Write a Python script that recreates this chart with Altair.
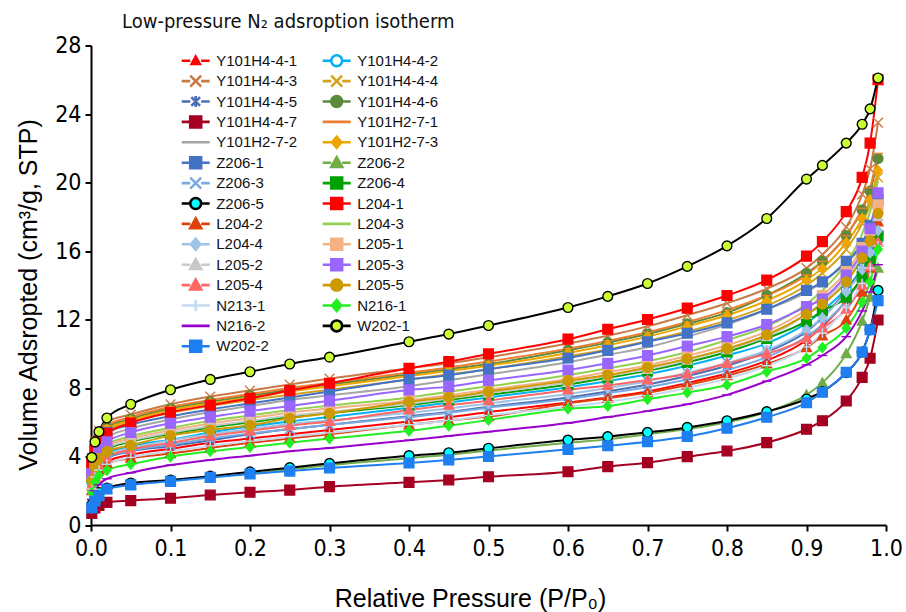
import altair as alt
import pandas as pd

# ---------------- data ----------------
X = [0.001, 0.005, 0.01, 0.02, 0.05, 0.1, 0.15, 0.2, 0.25, 0.3, 0.4, 0.45, 0.5,
     0.6, 0.65, 0.7, 0.75, 0.8, 0.85, 0.9, 0.92, 0.95, 0.97, 0.98, 0.99]

SERIES = ["Y101H4-4-1", "Y101H4-4-2", "Y101H4-4-3", "Y101H4-4-4", "Y101H4-4-5",
          "Y101H4-4-6", "Y101H4-4-7", "Y101H2-7-1", "Y101H2-7-2", "Y101H2-7-3",
          "Z206-1", "Z206-2", "Z206-3", "Z206-4", "Z206-5",
          "L204-1", "L204-2", "L204-3", "L204-4",
          "L205-1", "L205-2", "L205-3", "L205-4", "L205-5",
          "N213-1", "N216-1", "N216-2", "W202-1", "W202-2"]

Y101H4_4_1 = [2.2, 2.9, 3.3, 3.7, 4.1, 4.45, 4.8, 5.05, 5.3, 5.55, 6.05, 6.3, 6.6, 7.15, 7.45, 7.8, 8.3, 8.85, 9.6, 10.8, 11.6, 13.1, 14.5, 15.4, 16.7]
Y101H4_4_2 = [2.5, 3.3, 3.75, 4.15, 4.6, 4.98, 5.4, 5.75, 6.05, 6.3, 6.85, 7.15, 7.45, 8.05, 8.4, 8.8, 9.3, 9.9, 10.6, 11.8, 12.5, 13.8, 15.0, 15.9, 17.0]
Y101H4_4_3 = [3.9, 4.9, 5.5, 6.0, 6.45, 7.05, 7.5, 7.85, 8.2, 8.55, 9.15, 9.45, 9.8, 10.6, 11.05, 11.6, 12.25, 12.95, 13.8, 15.0, 15.8, 17.4, 19.3, 20.8, 23.5]
Y101H4_4_4 = [3.4, 4.4, 5.0, 5.5, 6.0, 6.55, 6.95, 7.3, 7.6, 7.9, 8.5, 8.8, 9.1, 9.85, 10.25, 10.75, 11.3, 11.95, 12.8, 14.0, 14.7, 16.1, 17.6, 18.7, 20.3]
Y101H4_4_5 = [2.4, 3.1, 3.5, 3.9, 4.3, 4.6, 4.95, 5.3, 5.6, 5.85, 6.35, 6.6, 6.9, 7.45, 7.8, 8.2, 8.7, 9.3, 10.1, 11.3, 12.1, 13.7, 15.0, 16.0, 17.4]
Y101H4_4_6 = [3.6, 4.6, 5.2, 5.7, 6.2, 6.8, 7.2, 7.55, 7.9, 8.2, 8.8, 9.1, 9.4, 10.2, 10.65, 11.15, 11.75, 12.4, 13.4, 14.7, 15.4, 16.9, 18.4, 19.5, 21.4]
Y101H4_4_7 = [0.68, 1.0, 1.15, 1.32, 1.42, 1.56, 1.75, 1.91, 2.04, 2.24, 2.49, 2.63, 2.82, 3.11, 3.41, 3.64, 3.99, 4.32, 4.81, 5.59, 6.09, 7.24, 8.62, 9.74, 11.97]
Y101H2_7_1 = [3.7, 4.7, 5.3, 5.8, 6.3, 6.9, 7.3, 7.65, 8.0, 8.3, 8.9, 9.2, 9.55, 10.3, 10.75, 11.25, 11.85, 12.55, 13.4, 14.6, 15.4, 16.9, 18.5, 19.7, 21.7]
Y101H2_7_2 = [3.26, 4.14, 4.66, 5.1, 5.63, 6.16, 6.6, 6.95, 7.3, 7.57, 8.1, 8.45, 8.8, 9.5, 9.94, 10.38, 11.0, 11.7, 12.58, 13.6, 14.2, 15.3, 16.3, 17.1, 18.5]
Y101H2_7_3 = [3.5, 4.5, 5.1, 5.6, 6.1, 6.7, 7.1, 7.45, 7.8, 8.1, 8.7, 9.0, 9.3, 10.05, 10.5, 11.0, 11.6, 12.25, 13.1, 14.3, 15.0, 16.5, 17.9, 19.0, 20.7]
Z206_1 = [3.3, 4.3, 4.9, 5.4, 5.85, 6.35, 6.75, 7.1, 7.45, 7.8, 8.5, 8.75, 9.1, 9.75, 10.2, 10.7, 11.2, 11.8, 12.6, 13.7, 14.2, 15.4, 16.45, 17.5, 19.0]
Z206_2 = [1.1, 1.5, 1.8, 2.1, 2.35, 2.6, 2.8, 3.0, 3.25, 3.5, 3.9, 4.1, 4.35, 4.8, 5.0, 5.3, 5.6, 6.0, 6.6, 7.6, 8.3, 10.0, 11.9, 13.3, 15.0]
Z206_3 = [2.5, 3.2, 3.6, 3.95, 4.35, 4.7, 5.05, 5.35, 5.6, 5.85, 6.3, 6.55, 6.85, 7.35, 7.7, 8.05, 8.5, 9.05, 9.8, 11.0, 11.7, 13.1, 14.5, 15.4, 16.8]
Z206_4 = [2.8, 3.57, 4.03, 4.4, 4.86, 5.32, 5.7, 6.0, 6.3, 6.54, 7.0, 7.3, 7.6, 8.2, 8.6, 9.0, 9.5, 10.1, 10.9, 11.9, 12.5, 13.3, 14.5, 15.4, 16.9]
Z206_5 = [1.2, 1.6, 1.9, 2.15, 2.45, 2.63, 2.85, 3.1, 3.35, 3.6, 4.05, 4.22, 4.48, 4.96, 5.16, 5.41, 5.7, 6.09, 6.62, 7.36, 7.79, 8.9, 10.1, 11.4, 13.7]
L204_1 = [3.6, 4.4, 4.9, 5.35, 5.95, 6.58, 7.0, 7.4, 7.85, 8.28, 9.15, 9.54, 9.99, 10.85, 11.43, 12.0, 12.66, 13.4, 14.3, 15.7, 16.55, 18.3, 20.3, 22.3, 26.0]
L204_2 = [2.0, 2.8, 3.2, 3.6, 3.9, 4.17, 4.5, 4.8, 5.05, 5.3, 5.85, 6.1, 6.33, 7.1, 7.4, 7.73, 8.18, 8.72, 9.4, 10.36, 11.04, 11.97, 13.6, 15.0, 17.7]
L204_3 = [3.0, 3.8, 4.3, 4.7, 5.18, 5.67, 6.08, 6.4, 6.72, 6.97, 7.45, 7.78, 8.1, 8.75, 9.15, 9.56, 10.1, 10.8, 11.6, 12.9, 13.7, 15.3, 17.0, 18.3, 20.1]
L204_4 = [2.6, 3.3, 3.75, 4.1, 4.5, 4.95, 5.3, 5.6, 5.9, 6.1, 6.55, 6.8, 7.1, 7.65, 8.0, 8.4, 8.9, 9.45, 10.2, 11.4, 12.1, 13.6, 14.9, 15.9, 17.2]
L205_1 = [2.9, 3.7, 4.2, 4.6, 5.05, 5.53, 5.93, 6.24, 6.56, 6.8, 7.27, 7.58, 7.9, 8.53, 8.93, 9.32, 9.88, 10.5, 11.3, 12.6, 13.4, 14.8, 16.2, 17.2, 18.7]
L205_2 = [2.85, 3.62, 4.08, 4.47, 4.93, 5.39, 5.78, 6.08, 6.39, 6.62, 7.08, 7.39, 7.7, 8.32, 8.7, 9.09, 9.63, 10.24, 11.0, 12.3, 13.0, 14.4, 15.7, 16.6, 18.0]
L205_3 = [3.0, 3.9, 4.4, 4.85, 5.4, 5.94, 6.3, 6.65, 6.95, 7.25, 7.89, 8.08, 8.43, 9.05, 9.44, 9.9, 10.45, 11.0, 11.7, 12.75, 13.2, 14.6, 16.0, 17.3, 19.4]
L205_4 = [2.3, 3.1, 3.5, 3.95, 4.4, 4.8, 5.2, 5.5, 5.8, 6.05, 6.72, 7.0, 7.26, 7.89, 8.15, 8.47, 8.82, 9.44, 10.0, 10.9, 11.5, 12.6, 14.0, 15.1, 16.5]
L205_5 = [2.6, 3.4, 3.9, 4.3, 4.65, 5.22, 5.55, 5.82, 6.23, 6.52, 7.2, 7.46, 7.79, 8.43, 8.76, 9.2, 9.7, 10.3, 11.1, 12.3, 12.9, 14.2, 15.6, 16.6, 18.2]
N213_1 = [2.1, 2.8, 3.2, 3.55, 3.95, 4.3, 4.62, 4.9, 5.15, 5.38, 5.85, 6.1, 6.4, 6.9, 7.2, 7.55, 8.0, 8.55, 9.3, 10.4, 11.2, 12.7, 14.1, 15.0, 16.3]
N216_1 = [1.9, 2.5, 2.9, 3.2, 3.55, 3.99, 4.3, 4.55, 4.8, 5.05, 5.5, 5.8, 6.13, 6.78, 6.95, 7.34, 7.73, 8.18, 8.95, 9.74, 10.36, 11.5, 13.0, 14.2, 16.1]
N216_2 = [1.5, 2.0, 2.35, 2.7, 3.05, 3.5, 3.8, 4.05, 4.3, 4.5, 4.95, 5.2, 5.45, 5.95, 6.3, 6.65, 7.05, 7.6, 8.4, 9.35, 9.9, 11.0, 12.5, 13.6, 15.2]
W202_1 = [3.95, 4.85, 5.45, 6.25, 7.05, 7.9, 8.5, 8.95, 9.4, 9.8, 10.7, 11.15, 11.65, 12.7, 13.35, 14.1, 15.1, 16.3, 17.9, 20.2, 21.0, 22.3, 23.4, 24.3, 26.1]
W202_2 = [1.0, 1.4, 1.7, 2.1, 2.34, 2.55, 2.78, 2.98, 3.15, 3.33, 3.62, 3.8, 4.0, 4.42, 4.63, 4.86, 5.17, 5.65, 6.29, 7.14, 7.75, 8.92, 10.1, 11.4, 13.1]

VALUES = [Y101H4_4_1, Y101H4_4_2, Y101H4_4_3, Y101H4_4_4, Y101H4_4_5,
          Y101H4_4_6, Y101H4_4_7, Y101H2_7_1, Y101H2_7_2, Y101H2_7_3,
          Z206_1, Z206_2, Z206_3, Z206_4, Z206_5,
          L204_1, L204_2, L204_3, L204_4,
          L205_1, L205_2, L205_3, L205_4, L205_5,
          N213_1, N216_1, N216_2, W202_1, W202_2]

# ---------------- styles ----------------
LINE = ["#FF0000", "#00B0F0", "#C97A44", "#D6A21E", "#4A6FB5",
        "#5B8A3C", "#A50021", "#ED7D31", "#A5A5A5", "#EDA600",
        "#4472C4", "#70AD47", "#7AAAE0", "#00A000", "#000000",
        "#FF0000", "#E0400A", "#92D050", "#9DC3E6",
        "#F4B183", "#C8C8C8", "#9966FF", "#FF6666", "#CC9900",
        "#C5D9F1", "#22EE22", "#9900CC", "#000000", "#1E7FF0"]
FILL = list(LINE)
FILL[SERIES.index("Y101H4-4-2")] = "#FFFFFF"
FILL[SERIES.index("Z206-5")] = "#00FFFF"
FILL[SERIES.index("W202-1")] = "#CCFF33"

MARK = ["tri_s", "circ", "x", "x", "ast",
        "circ", "sq", "dash", "none", "dia",
        "sq", "tri", "x", "sq", "circ",
        "sq", "tri", "none", "dia",
        "sq", "tri", "sq", "tri", "circ",
        "plus", "dia", "dash", "circ", "sq"]


def f(v):
    return f"{round(v, 3):g}"


def marker(kind, s):
    if kind == "tri_s":
        kind, s = "tri", s * 0.75
    if kind == "sq":
        return f"M{f(-s)},{f(-s)}H{f(s)}V{f(s)}H{f(-s)}Z"
    if kind == "circ":
        return f"M{f(-s)},0A{f(s)},{f(s)},0,1,1,{f(s)},0A{f(s)},{f(s)},0,1,1,{f(-s)},0Z"
    if kind == "tri":
        return f"M0,{f(-s)}L{f(s)},{f(0.8*s)}L{f(-s)},{f(0.8*s)}Z"
    if kind == "dia":
        return f"M0,{f(-s)}L{f(0.85*s)},0L0,{f(s)}L{f(-0.85*s)},0Z"
    if kind == "x":
        return f"M{f(-s)},{f(-s)}L{f(s)},{f(s)}M{f(-s)},{f(s)}L{f(s)},{f(-s)}"
    if kind == "ast":
        t = 0.8 * s
        return f"M{f(-t)},{f(-t)}L{f(t)},{f(t)}M{f(-t)},{f(t)}L{f(t)},{f(-t)}M0,{f(-s)}V{f(s)}"
    if kind == "plus":
        return f"M{f(-s)},0H{f(s)}M0,{f(-s)}V{f(s)}"
    if kind == "dash":
        return f"M{f(-s)},0H{f(s)}"
    return "M0,0"


PLOT_SHAPES = [marker(k, 1.0) for k in MARK]
LEG_M = 0.39
LEG_SHAPES = []
for k in MARK:
    if k in ("none", "dash"):
        LEG_SHAPES.append("M-1,0H1")
    else:
        LEG_SHAPES.append(f"M-1,0H{f(-LEG_M)}M{f(LEG_M)},0H1" + marker(k, LEG_M))

# legend is filled column by column: first column, then second column
LEG_ORDER = ["Y101H4-4-1", "Y101H4-4-3", "Y101H4-4-5", "Y101H4-4-7", "Y101H2-7-2",
             "Z206-1", "Z206-3", "Z206-5", "L204-2", "L204-4", "L205-2", "L205-4",
             "N213-1", "N216-2", "W202-2",
             "Y101H4-4-2", "Y101H4-4-4", "Y101H4-4-6", "Y101H2-7-1", "Y101H2-7-3",
             "Z206-2", "Z206-4", "L204-1", "L204-3", "L205-1", "L205-3", "L205-5",
             "N216-1", "W202-1"]
IDX = [SERIES.index(s) for s in LEG_ORDER]
LEG_FILL = [FILL[i] for i in IDX]
LEG_LINE = [LINE[i] for i in IDX]
LEG_SHAPE = [LEG_SHAPES[i] for i in IDX]

rows = []
for name, vals in zip(SERIES, VALUES):
    for xv, yv in zip(X, vals):
        rows.append({"series": name, "x": xv, "y": yv})
df = pd.DataFrame(rows)

NARROW = "Liberation Sans Narrow, Arial Narrow, Noto Sans Condensed, DejaVu Sans Condensed, sans-serif"
SANS = "Liberation Sans, Arial, sans-serif"

x_enc = alt.X("x:Q", scale=alt.Scale(domain=[0, 1], nice=False),
              axis=alt.Axis(values=[i / 10 for i in range(11)], format=".1f",
                            title="Relative Pressure (P/P\u2080)", labelFlush=False,
                            titleX=379, titleY=73, titleBaseline="middle",
                            labelPadding=6))
y_enc = alt.Y("y:Q", scale=alt.Scale(domain=[0, 28], nice=False),
              axis=alt.Axis(values=list(range(0, 29, 4)), labelFlush=False,
                            title="Volume Adsropted (cm\u00b3/g, STP)",
                            titleX=-63, titleY=249, titleBaseline="middle",
                            titleAlign="center", labelPadding=4))

base = alt.Chart(df)

lines = base.mark_line(strokeWidth=2, interpolate="monotone").encode(
    x=x_enc, y=y_enc,
    color=alt.Color("series:N", scale=alt.Scale(domain=SERIES, range=LINE), legend=None),
    detail="series:N",
)

points = base.mark_point(filled=True, opacity=1, size=95, strokeWidth=1.4).encode(
    x=x_enc, y=y_enc,
    fill=alt.Fill("series:N", scale=alt.Scale(domain=SERIES, range=FILL), legend=None),
    stroke=alt.Stroke("series:N", scale=alt.Scale(domain=SERIES, range=LINE), legend=None),
    shape=alt.Shape("series:N", scale=alt.Scale(domain=SERIES, range=PLOT_SHAPES), legend=None),
)

leg = alt.Legend(orient="none", legendX=89.2, legendY=7.2, columns=2,
                 symbolSize=784, symbolStrokeWidth=2.6, labelFontSize=15,
                 labelFont=SANS, labelColor="#111111", clipHeight=16,
                 rowPadding=4.4, columnPadding=24, padding=0, title=None,
                 labelOffset=5, symbolOpacity=1)

legend_layer = base.transform_filter("datum.x > 5").mark_point(
    filled=True, opacity=1, strokeWidth=2.6).encode(
    x=x_enc, y=y_enc,
    fill=alt.Fill("series:N", scale=alt.Scale(domain=LEG_ORDER, range=LEG_FILL), legend=leg),
    stroke=alt.Stroke("series:N", scale=alt.Scale(domain=LEG_ORDER, range=LEG_LINE), legend=leg),
    shape=alt.Shape("series:N", scale=alt.Scale(domain=LEG_ORDER, range=LEG_SHAPE), legend=leg),
)

chart = alt.layer(lines, points, legend_layer).resolve_scale(
    color="independent", fill="independent", stroke="independent", shape="independent"
).resolve_legend(
    color="independent", fill="independent", stroke="independent", shape="independent"
).properties(
    width=795, height=479.5,
    background="#FFFFFF",
    autosize=alt.AutoSizeParams(type="none"),
    padding={"left": 91, "top": 45.5, "right": 20, "bottom": 87},
    title=alt.TitleParams("Low-pressure N\u2082 adsroption isotherm", anchor="start",
                          frame="group", dx=31, offset=3, fontSize=20, font=NARROW,
                          fontWeight="normal", color="#111111"),
).configure_view(stroke=None).configure_axis(
    grid=False, domainColor="#000000", domainWidth=2, tickColor="#000000",
    tickWidth=2, tickSize=6, labelFont=NARROW, labelFontSize=23, labelColor="#000000",
    titleFont=SANS, titleFontSize=25, titleFontWeight="normal", titleColor="#000000",
)

chart.save("out.html", embed_options={"renderer": "svg", "actions": False})
